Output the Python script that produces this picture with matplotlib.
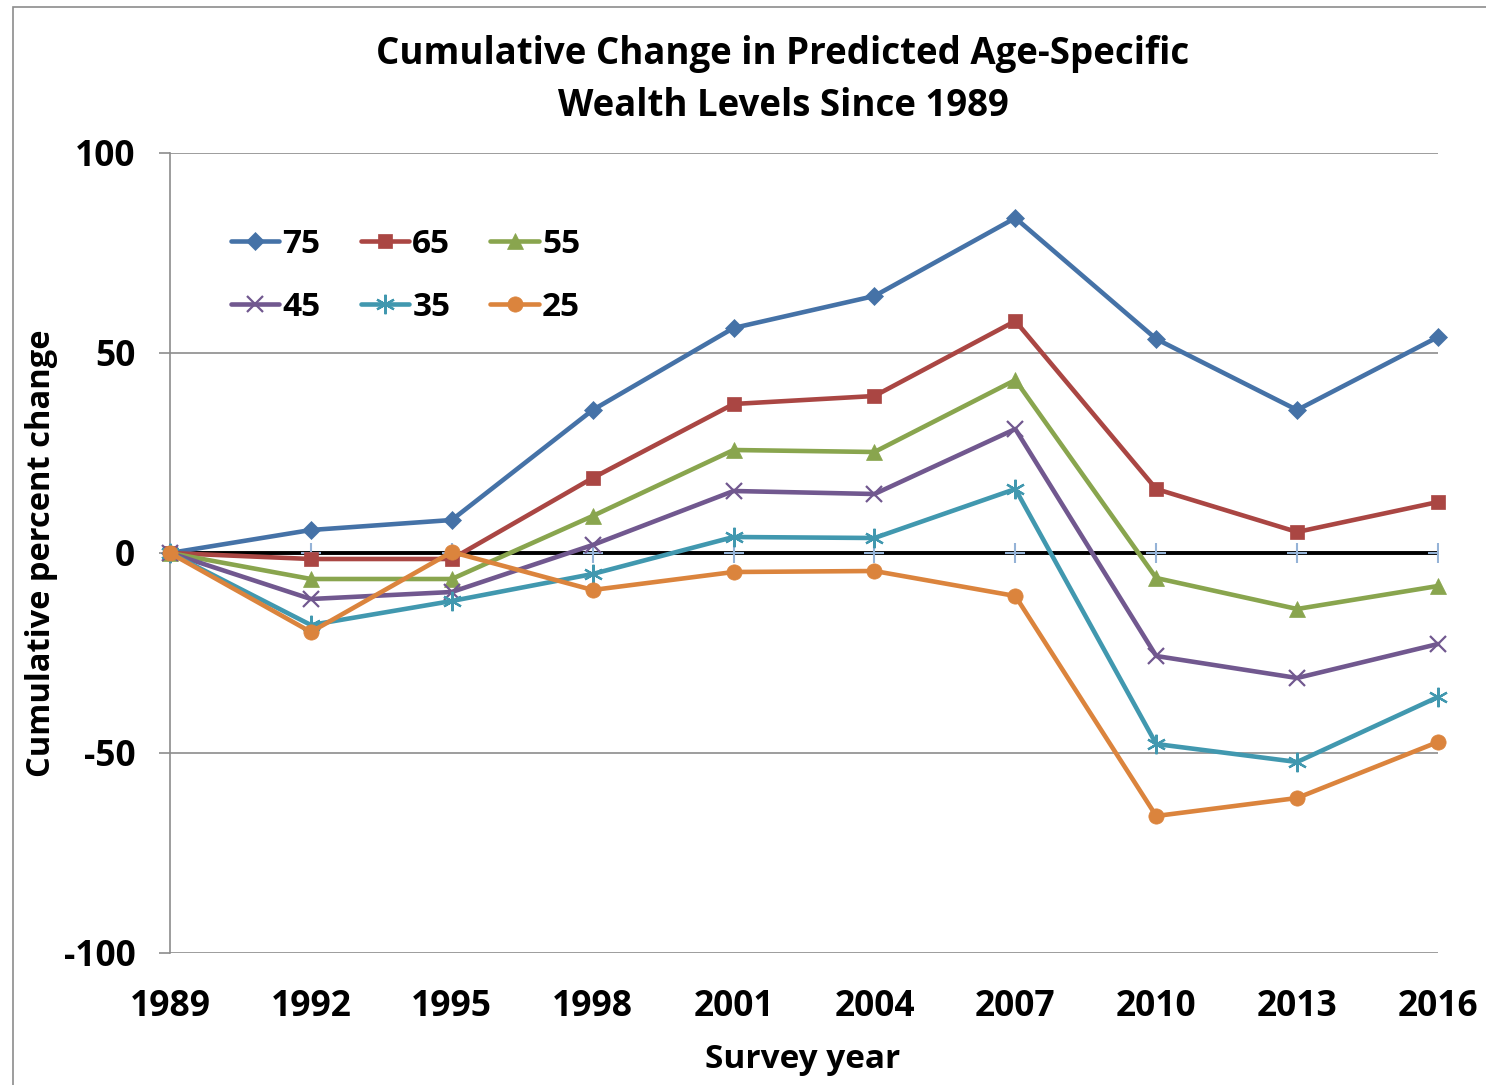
import matplotlib
matplotlib.use("Agg")
import matplotlib.pyplot as plt
from matplotlib.lines import Line2D
from matplotlib.patches import Rectangle

years = [1989, 1992, 1995, 1998, 2001, 2004, 2007, 2010, 2013, 2016]
age75 = [0, 5.75, 8.25, 35.75, 56.25, 64.25, 83.75, 53.5, 35.75, 54.0]
age65 = [0, -1.5, -1.5, 18.75, 37.25, 39.25, 58.0, 16.0, 5.25, 12.75]
age55 = [0, -6.5, -6.5, 9.25, 25.75, 25.25, 43.25, -6.25, -14.0, -8.25]
age45 = [0, -11.5, -9.75, 2.0, 15.5, 14.75, 31.0, -25.75, -31.25, -22.75]
age35 = [0, -18.0, -12.0, -5.25, 4.0, 3.75, 16.0, -47.75, -52.25, -36.0]
age25 = [0, -19.75, 0.25, -9.25, -4.75, -4.5, -10.75, -65.75, -61.25, -47.25]
baseline = [0] * len(years)
labels = ["75", "65", "55", "45", "35", "25"]
yticks = [-100, -50, 0, 50, 100]

FONT = "Open Sans"
W, H = 1486, 1085
fig = plt.figure(figsize=(W / 100, H / 100), dpi=100)
fig.patch.set_facecolor("white")
fig.add_artist(Rectangle((13 / W, -0.1), 1.2, 1.1 - 7 / H, transform=fig.transFigure,
                         fill=False, edgecolor="#8c8c8c", lw=1.2))

x0, x1, yt, yb = 170, 1438, 153, 953
ax = fig.add_axes([x0 / W, 1 - yb / H, (x1 - x0) / W, (yb - yt) / H])
ax.set_xlim(0, len(years) - 1)
ax.set_ylim(-100, 100)
xs = list(range(len(years)))

for y in [100, 50, -50, -100]:
    ax.axhline(y, color="#8c8c8c", lw=1.2, zorder=1)

for s in ["top", "right", "bottom"]:
    ax.spines[s].set_visible(False)
ax.spines["left"].set_color("#8c8c8c")
ax.spines["left"].set_linewidth(1.2)
ax.set_yticks(yticks)
ax.set_yticklabels([str(v) for v in yticks], fontsize=25.5, fontweight="bold", family=FONT)
ax.tick_params(axis="y", length=8, width=1.2, color="#8c8c8c", pad=17)
ax.set_xticks(xs)
ax.set_xticklabels([str(y) for y in years], fontsize=25.5, fontweight="bold", family=FONT)
ax.tick_params(axis="x", length=0, pad=26)

# zero axis line with small ticks
ax.axhline(0, color="black", lw=2.8, zorder=3)
ax.vlines(xs, -2, 0, color="#8c8c8c", lw=1.2, zorder=2)
ax.plot(xs, baseline, ls="none", marker="+", ms=14, mew=1.5, color="#95B3D7", zorder=4)

series = [age75, age65, age55, age45, age35, age25]
colors = ["#4572A7", "#AA4643", "#89A54E", "#71588F", "#4198AF", "#DB843D"]
markers = ["D", "s", "^", "x", (6, 2, 0), "o"]
msizes = [9, 10, 11, 12, 14, 11]
handles = []
for vals, c, m, ms, lab in zip(series, colors, markers, msizes, labels):
    mew = 1.6 if m in ("x", (6, 2, 0)) else 0.5
    ax.plot(xs, vals, color=c, lw=3.3, marker=m, ms=ms, mew=mew, mec=c, mfc=c, zorder=5,
            clip_on=False, solid_joinstyle="round", solid_capstyle="round")
    handles.append(Line2D([], [], color=c, lw=3.3, marker=m, ms=ms, mew=mew, mec=c, mfc=c,
                          solid_capstyle="round", label=lab))

order = [0, 3, 1, 4, 2, 5]
leg = ax.legend([handles[i] for i in order], [labels[i] for i in order], ncol=3,
                loc="upper left", bbox_to_anchor=(0.0373, 0.923), frameon=False,
                prop={"family": FONT, "weight": "bold", "size": 24},
                handlelength=1.45, handletextpad=0.1, columnspacing=1.2, labelspacing=0.9,
                borderaxespad=0)

fig.text(783 / W, 1 - 80 / H, "Cumulative Change in Predicted Age-Specific\nWealth Levels Since 1989",
         ha="center", va="center", fontsize=26.4, fontweight="bold", family=FONT, linespacing=1.5)
fig.text(803 / W, 1 - 1060 / H, "Survey year", ha="center", va="center",
         fontsize=24, fontweight="bold", family=FONT)
fig.text(42 / W, 1 - 553 / H, "Cumulative percent change", ha="center", va="center",
         rotation=90, fontsize=23.5, fontweight="bold", family=FONT)

fig.savefig("out.png", dpi=100)
